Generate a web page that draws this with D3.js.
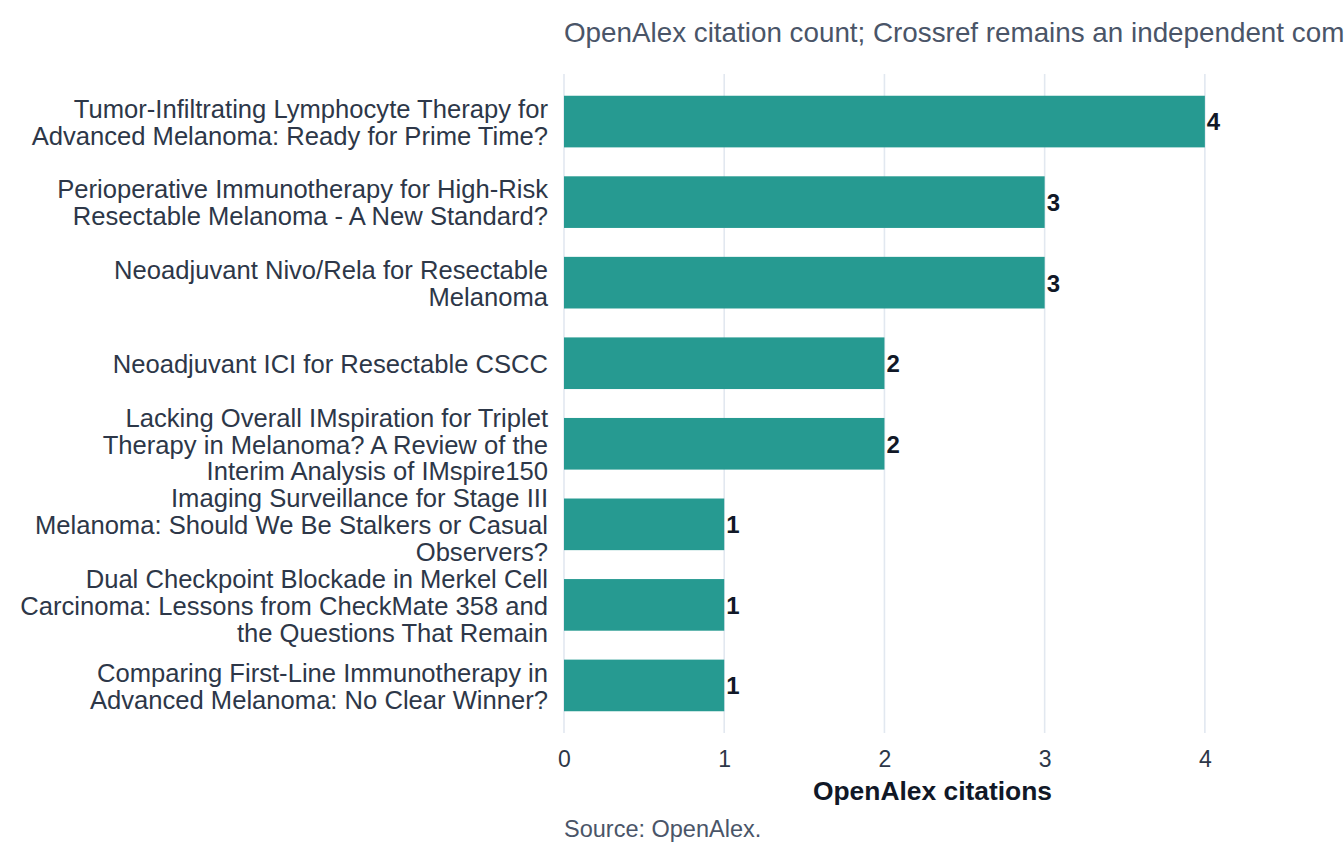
<!DOCTYPE html>
<html>
<head>
<meta charset="utf-8">
<script src="https://cdn.jsdelivr.net/npm/d3@7"></script>
<style>
  body { margin: 0; background: #fff; overflow: hidden; }
  svg text { font-family: "Liberation Sans", Arial, sans-serif; }
</style>
</head>
<body>
<script>
// Titles, top to bottom; "\n" marks where the label wraps
const titles = [
  "Tumor-Infiltrating Lymphocyte Therapy for\nAdvanced Melanoma: Ready for Prime Time?",
  "Perioperative Immunotherapy for High-Risk\nResectable Melanoma - A New Standard?",
  "Neoadjuvant Nivo/Rela for Resectable\nMelanoma",
  "Neoadjuvant ICI for Resectable CSCC",
  "Lacking Overall IMspiration for Triplet\nTherapy in Melanoma? A Review of the\nInterim Analysis of IMspire150",
  "Imaging Surveillance for Stage III\nMelanoma: Should We Be Stalkers or Casual\nObservers?",
  "Dual Checkpoint Blockade in Merkel Cell\nCarcinoma: Lessons from CheckMate 358 and\nthe Questions That Remain",
  "Comparing First-Line Immunotherapy in\nAdvanced Melanoma: No Clear Winner?"
];
const citations = [4, 3, 3, 2, 2, 1, 1, 1];
const xTicks = [0, 1, 2, 3, 4];

const data = titles.map((t, i) => ({title: t, value: citations[i]}));

const W = 1344, H = 864;
const margin = {top: 74, left: 564};
const width = 737,
      height = 659;

const svg = d3.select("body").append("svg")
  .attr("width", W)
  .attr("height", H);

const g = svg.append("g")
  .attr("transform", `translate(${margin.left},${margin.top})`);

const x = d3.scaleLinear().domain([0, 4.6]).range([0, width]);
const y = d3.scaleBand()
  .domain(titles)
  .range([0, height])
  .paddingInner(0.359)
  .paddingOuter(0.27);

// subtitle (runs off the right edge like the original)
svg.append("text")
  .attr("x", margin.left)
  .attr("y", 42)
  .attr("fill", "#4a5568")
  .attr("font-size", 27.8)
  .text("OpenAlex citation count; Crossref remains an independent comparison source.");

// vertical grid
g.selectAll(".grid")
  .data(xTicks)
  .join("line")
  .attr("x1", d => x(d)).attr("x2", d => x(d))
  .attr("y1", 0).attr("y2", height)
  .attr("stroke", "#e2e8f0")
  .attr("stroke-width", 1.6);

// bars
g.selectAll(".bar")
  .data(data)
  .join("rect")
  .attr("x", x(0))
  .attr("y", d => y(d.title))
  .attr("width", d => x(d.value) - x(0))
  .attr("height", y.bandwidth())
  .attr("fill", "#269a91");

// value labels
g.selectAll(".val")
  .data(data)
  .join("text")
  .attr("x", d => x(d.value) + 2)
  .attr("y", d => y(d.title) + y.bandwidth() / 2)
  .attr("dy", "0.37em")
  .attr("font-size", 24)
  .attr("font-weight", "bold")
  .attr("fill", "#111827")
  .text(d => d.value);

// y axis labels (no line, no ticks)
const yAxis = g.append("g")
  .call(d3.axisLeft(y).tickSize(0).tickPadding(16));
yAxis.select(".domain").remove();
yAxis.selectAll(".tick text").each(function(d) {
  const t = d3.select(this);
  const lines = d.split("\n");
  t.text(null)
    .attr("font-size", 25.6)
    .attr("fill", "#2d3748")
    .attr("dy", null);
  const lh = 27;
  const off = -(lines.length - 1) * lh / 2;
  lines.forEach((ln, i) => {
    t.append("tspan")
      .attr("x", -16)
      .attr("y", off + i * lh)
      .attr("dy", "0.38em")
      .text(ln);
  });
});

// x axis
const xAxis = g.append("g")
  .attr("transform", `translate(0,${height})`)
  .call(d3.axisBottom(x).tickValues(xTicks).tickFormat(d3.format("d")).tickSize(0).tickPadding(18));
xAxis.select(".domain").remove();
xAxis.selectAll(".tick text")
  .attr("font-size", 23)
  .attr("fill", "#2d3748");

// axis title
svg.append("text")
  .attr("x", margin.left + width / 2)
  .attr("y", 800)
  .attr("text-anchor", "middle")
  .attr("font-size", 26.4)
  .attr("font-weight", "bold")
  .attr("fill", "#111827")
  .text("OpenAlex citations");

// source note
svg.append("text")
  .attr("x", margin.left)
  .attr("y", 837)
  .attr("font-size", 23.5)
  .attr("fill", "#4a5568")
  .text("Source: OpenAlex.");
</script>
</body>
</html>
